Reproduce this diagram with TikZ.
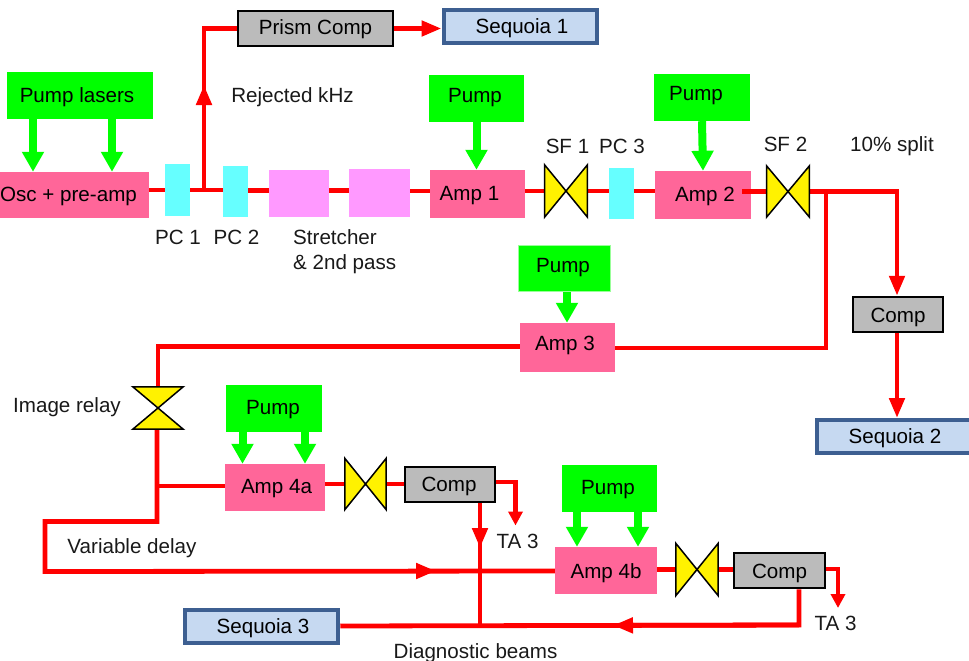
\documentclass[tikz,border=0pt]{standalone}
\usepackage{fontspec}
\setmainfont{Liberation Sans}
\usetikzlibrary{arrows.meta}
\definecolor{ampc}{HTML}{FF6699}
\definecolor{pcc}{HTML}{66FFFF}
\definecolor{strc}{HTML}{FF99FF}
\definecolor{grayc}{HTML}{BBBBBB}
\definecolor{seqc}{HTML}{C6D9F1}
\definecolor{seqb}{HTML}{3D5F91}
\definecolor{lgreen}{HTML}{99FF99}
\newcommand\tshift[3]{\raisebox{#2pt}{\hspace*{#1pt}#3}}
\newcommand\bowv[1]{\draw[bowstyle] (#1.north west) -- (#1.south east) -- (#1.north east) -- (#1.south west) -- cycle;}
\newcommand\bowh[1]{\draw[bowstyle] (#1.north west) -- (#1.north east) -- (#1.south west) -- (#1.south east) -- cycle;}
\tikzset{
  sz/.style 2 args={minimum width=#1pt,minimum height=#2pt},
  boxbase/.style={rectangle,inner sep=0pt,text height=15pt,text depth=0pt,font=\fontsize{20.6}{25}\selectfont,text=black},
  ampbox/.style={boxbase,fill=ampc},
  pumpbox/.style={boxbase,fill=green},
  pcbox/.style={boxbase,fill=pcc},
  strbox/.style={boxbase,fill=strc},
  compbox/.style={boxbase,fill=grayc,draw=black,line width=2pt},
  seqbox/.style={boxbase,fill=seqc,draw=seqb,line width=4pt},
  bownode/.style={rectangle,inner sep=0pt},
  bowstyle/.style={fill=yellow,draw=black,line width=1.5pt,line join=miter},
  lab/.style={anchor=base,inner sep=0pt,font=\fontsize{20.6}{25}\selectfont,text=black!90},
  beam/.style={draw=red,line width=4.8pt,line join=miter},
  redtip/.style={beam,-{Triangle[length=20pt,width=15pt]}},
  smalltip/.style={beam,-{Triangle[length=14pt,width=14pt]}},
  pumparrow/.style={draw=green,line width=8pt,-{Triangle[length=20pt,width=21pt]}}
}
\begin{document}
\begin{tikzpicture}[x=1pt,y=-1pt]
\useasboundingbox (0,0) rectangle (969,661);
\clip (0,0) rectangle (969,661);
% boxes
\node[compbox,sz={155}{35}] (prism) at (315.5,28.5) {\tshift{0}{1}{Prism Comp}};
\node[seqbox,sz={153}{33}] (seq1) at (520,27) {\tshift{4}{1}{Sequoia 1}};
\node[pumpbox,sz={146}{47}] (plasers) at (80,95.5) {\tshift{-6}{1}{Pump lasers}};
\node[ampbox,sz={150}{46}] (osc) at (74,195) {\tshift{-11}{1.5}{Osc + pre-amp}};
\node[pcbox,sz={25}{52}] (pc1) at (177.5,190) {};
\node[pcbox,sz={25}{51}] (pc2) at (235.5,191.5) {};
\node[strbox,sz={60}{47}] (str1) at (299,193.5) {};
\node[strbox,sz={61}{48}] (str2) at (379.5,193) {};
\node[ampbox,sz={95}{48}] (amp1) at (477.5,194) {\tshift{-16}{1.5}{Amp 1}};
\node[pumpbox,sz={95}{47}] (pump1) at (476.5,98.5) {\tshift{-3}{4}{Pump}};
\node[bownode,sz={42.5}{52}] (sf1) at (566,191) {};
\node[pcbox,sz={25}{51}] (pc3) at (621.5,193.5) {};
\node[ampbox,sz={96}{48}] (amp2) at (703,195) {\tshift{4}{1}{Amp 2}};
\node[pumpbox,sz={96}{47}] (pump2) at (702,97.5) {\tshift{-12}{5}{Pump}};
\node[bownode,sz={42.5}{51}] (sf2) at (788,191.5) {};
\node[pumpbox,draw=lgreen,line width=1.5pt,sz={92}{46}] (pump3) at (564.5,268.5) {\tshift{-3}{4}{Pump}};
\node[ampbox,sz={95}{49}] (amp3) at (567.5,347.5) {\tshift{-5}{5}{Amp 3}};
\node[compbox,sz={90.5}{35.5}] (comp2) at (898,314.5) {Comp};
\node[seqbox,sz={157}{33}] (seq2) at (895,436) {Sequoia 2};
\node[bownode,sz={50}{42}] (relay) at (158,408) {};
\node[ampbox,sz={100}{47}] (amp4a) at (275,487.5) {\tshift{3}{2}{Amp 4a}};
\node[pumpbox,sz={96}{47}] (pump4a) at (274,408.5) {\tshift{-2}{2}{Pump}};
\node[bownode,sz={41}{51}] (bow4a) at (365.5,484) {};
\node[compbox,sz={90.5}{35.5}] (comp4a) at (450,484.5) {\tshift{-2}{1}{Comp}};
\node[seqbox,sz={153.5}{33}] (seq3) at (261.5,626) {\tshift{3}{0}{Sequoia 3}};
\node[ampbox,sz={102}{47}] (amp4b) at (606,570.5) {Amp 4b};
\node[pumpbox,sz={95}{47}] (pump4b) at (609.5,488.5) {\tshift{-3}{2}{Pump}};
\node[bownode,sz={42}{52}] (bow4b) at (697,569.5) {};
\node[compbox,sz={91.5}{35.5}] (comp4b) at (779.5,570.5) {Comp};
% free ends and junctions of the beam lines
\coordinate (j1) at (204,190.5);
\coordinate (a1) at (204,85);
\coordinate (j2) at (826,191.5);
\coordinate (c2) at (897,191.5);
\coordinate (c2a) at (897,270);
\coordinate (c3) at (826,348);
\coordinate (c4) at (158,346.5);
\coordinate (j3) at (157,486);
\coordinate (c5) at (157,521.5);
\coordinate (c6) at (45,521.5);
\coordinate (c7) at (45,571.5);
\coordinate (a2) at (436,571);
\coordinate (a2b) at (410,571);
\coordinate (s2) at (742,191.5);
\coordinate (c8) at (515.5,482);
\coordinate (ta1) at (515.5,525.5);
\coordinate (a3) at (480,548);
\coordinate (j4) at (480,626);
\coordinate (c9) at (799,625);
\coordinate (a4) at (613,625.4);
\coordinate (c10) at (838,569);
\coordinate (ta2) at (838,608);
\coordinate (s3) at (897,418);
% main beam
\draw[beam] (osc.east |- pc1) -- (pc1.west);
\draw[beam] (pc1.east) -- (pc2.west |- pc1);
\draw[beam] (pc2.east |- j1) -- (str1.west |- j1);
\draw[beam] (str1.east |- j1) -- (str2.west |- j1);
\draw[beam] (str2.east |- sf1) -- (amp1.west |- sf1);
\draw[beam] (amp1.east |- sf1) -- (sf1.west);
\draw[beam] (sf1.east) -- (pc3.west |- sf1);
\draw[beam] (pc3.east |- sf1) -- (amp2.west |- sf1);
\draw[beam] (s2) -- (sf2.west);
\draw[beam] (sf2.east) -- (c2) -- (c2a);
\draw[redtip] (c2a) -- (comp2.north -| c2);
\draw[beam] (j2) -- (c3) -- (amp3.east |- c3);
\draw[beam] (amp3.west |- c4) -- (c4) -- (relay.north -| c4);
\draw[beam] (relay.south -| j3) -- (c5) -- (c6) -- (c7) -- (amp4b.west |- a2);
\draw[redtip] (a2b) -- (a2);
\draw[beam] (j3) -- (amp4a.west |- j3);
\draw[beam] (amp4a.east |- bow4a) -- (bow4a.west);
\draw[beam] (bow4a.east) -- (comp4a.west |- bow4a);
\draw[beam] (comp4a.east |- c8) -- (c8) -- ([yshift=6pt]ta1);
\draw[smalltip] (c8) -- (ta1);
\draw[beam] (comp4a.south -| j4) -- (j4);
\draw[redtip] (comp4a.south -| a3) -- (a3);
\draw[beam] (seq3.east) -- (c9) -- (comp4b.south -| c9);
\draw[redtip] (c9) -- (a4);
\draw[beam] (amp4b.east |- bow4b) -- (bow4b.west);
\draw[beam] (bow4b.east) -- (comp4b.west |- bow4b);
\draw[beam] (comp4b.east |- c10) -- (c10) -- ([yshift=6pt]ta2);
\draw[smalltip] (c10) -- (ta2);
% rejected beam
\draw[beam] (j1) -- (j1 |- prism) -- (prism.west);
\draw[redtip] (j1) -- (a1);
\draw[redtip] (prism.east) -- (seq1.west |- prism);
% sequoia 2 branch
\draw[redtip] (comp2.south -| s3) -- (s3);
% pump arrows
\draw[pumparrow] ([xshift=-47pt]plasers.south) -- ([xshift=-41pt]osc.north);
\draw[pumparrow] ([xshift=32pt]plasers.south) -- ([xshift=38pt]osc.north);
\draw[pumparrow] (pump1.south) -- (pump1.south |- amp1.north);
\draw[pumparrow] (pump2.south) -- (amp2.north);
\draw[pumparrow] ([xshift=2.5pt]pump3.south) -- ([xshift=-.5pt]amp3.north);
\draw[pumparrow] ([xshift=-31.5pt]pump4a.south) -- ([xshift=-32.5pt]amp4a.north);
\draw[pumparrow] ([xshift=31pt]pump4a.south) -- ([xshift=30pt]amp4a.north);
\draw[pumparrow] ([xshift=-32.5pt]pump4b.south) -- ([xshift=-29pt]amp4b.north);
\draw[pumparrow] ([xshift=28.5pt]pump4b.south) -- ([xshift=32pt]amp4b.north);
% bowties
\bowv{sf1}\bowv{sf2}\bowv{bow4a}\bowv{bow4b}\bowh{relay}
% labels
\node[lab] (l1) at (292.5,102) {Rejected kHz};
\node[lab] (l2) at (178,244) {PC 1};
\node[lab] (l3) at (236.5,244) {PC 2};
\node[lab,anchor=north west,align=left] (l4) at (293,229.5) {Stretcher\\\& 2nd pass};
\node[lab] (l5) at (567.5,153) {SF 1};
\node[lab] (l6) at (622,153) {PC 3};
\node[lab] (l7) at (785.5,151.5) {SF 2};
\node[lab] (l8) at (892,151.5) {10\% split};
\node[lab] (l9) at (67,412) {Image relay};
\node[lab] (l10) at (132,553) {Variable delay};
\node[lab] (l11) at (517.5,548) {TA 3};
\node[lab] (l12) at (835.5,630) {TA 3};
\node[lab] (l13) at (475.5,658) {Diagnostic beams};
\end{tikzpicture}
\end{document}
